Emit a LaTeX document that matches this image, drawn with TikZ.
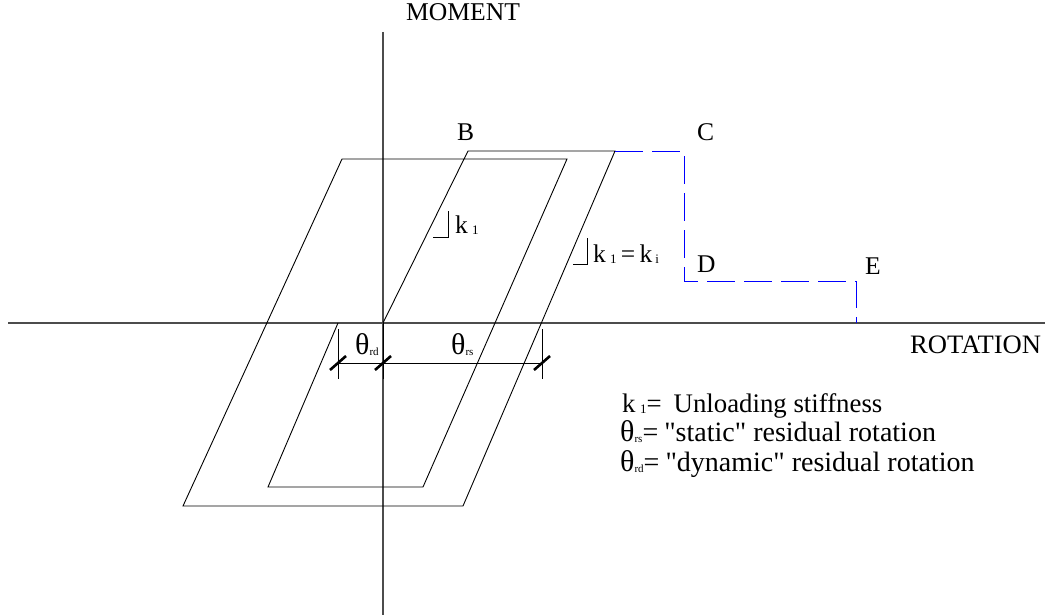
\documentclass[tikz,border=0pt]{standalone}
\usepackage{fontspec}
\setmainfont{Liberation Serif}
\newfontfamily\qf{Liberation Serif}
\newcommand{\ksb}[1]{\raisebox{-1.5pt}{\fontsize{13}{13}\selectfont #1}}
\newcommand{\tsb}[1]{\raisebox{-1pt}{\fontsize{11}{11}\selectfont #1}}
\newcommand{\thb}{{\fontsize{30}{30}\selectfont θ}}
\newcommand{\dq}{{\qf"}}
\tikzset{
  axisline/.style={draw=black!70, line width=1.1pt},
  curveline/.style={draw=black, line width=0.9pt, line join=miter},
  bluedash/.style={draw=blue, line width=1pt, dash pattern=on 28pt off 9pt},
  dimline/.style={draw=black, line width=0.8pt},
  slash/.style={draw=black, line width=2.6pt},
  lbl/.style={font=\fontsize{25.5}{30}\selectfont, inner sep=0pt, anchor=base west},
}
\begin{document}
\begin{tikzpicture}[x=1pt,y=-1pt]
\useasboundingbox (0,0) rectangle (1049,615);
% axes
\coordinate (xl) at (8,323);
\coordinate (xr) at (1045,323);
\coordinate (yt) at (383,32);
\coordinate (yb) at (383,615);
\draw[axisline] (xl) -- (xr);
\draw[axisline] (yt) -- (yb);
% hysteresis curve
\coordinate (O) at (383,323);
\coordinate (Bp) at (468,151);
\coordinate (Cs) at (615,151);
\coordinate (p3) at (463,506);
\coordinate (p4) at (183,506);
\coordinate (p5) at (342,159);
\coordinate (p6) at (567,159);
\coordinate (p7) at (423,487);
\coordinate (p8) at (268,487);
\coordinate (p9) at (338,323);
\draw[curveline] (O) -- (Bp) -- (Cs) -- (p3) -- (p4) -- (p5) -- (p6) -- (p7) -- (p8) -- (p9);
% blue dashed continuation
\coordinate (Cp) at (684,151);
\coordinate (Dp) at (684,281);
\coordinate (Ep) at (856,281);
\coordinate (Ea) at (856,323);
\draw[bluedash] (Cs) -- (Cp) -- (Dp) -- (Ep) -- (Ea);
% dimension lines
\coordinate (d1t) at (338,329);
\coordinate (d1b) at (338,379);
\coordinate (d2t) at (383,323);
\coordinate (d2b) at (383,379);
\coordinate (d3t) at (542,329);
\coordinate (d3b) at (542,379);
\coordinate (m1) at (338,363);
\coordinate (m2) at (383,363);
\coordinate (m3) at (542,363);
\draw[dimline] (d1t) -- (d1b);
\draw[dimline] (d2t) -- (d2b);
\draw[dimline] (d3t) -- (d3b);
\draw[dimline] (m1) -- (m3);
\foreach \m in {m1,m2,m3}
  \draw[slash] ([shift={(-8,7)}]\m) -- ([shift={(8,-7)}]\m);
% slope markers
\coordinate (s1a) at (433,237);
\coordinate (s1b) at (448,237);
\coordinate (s1c) at (448,211);
\draw[dimline] (s1a) -- (s1b) -- (s1c);
\coordinate (s2a) at (573,264);
\coordinate (s2b) at (587,264);
\coordinate (s2c) at (587,238);
\draw[dimline] (s2a) -- (s2b) -- (s2c);
% labels
\node[lbl, font=\fontsize{25.6}{30}\selectfont] (moment) at (406,21) {MOMENT};
\node[lbl, font=\fontsize{26.6}{30}\selectfont] (rotation) at (910,353) {ROTATION};
\node[lbl] (B) at (457,140) {B};
\node[lbl] (C) at (697,140) {C};
\node[lbl] (D) at (697,272) {D};
\node[lbl] (E) at (865,274) {E};
\node[lbl] (k1) at (455,233) {k\,\ksb{1}};
\node[lbl] (k1i) at (593,262) {k\,\ksb{1}\,=\,k\hspace{3pt}\ksb{i}};
\node[lbl] (trd) at (355,354) {\thb\tsb{rd}};
\node[lbl] (trs) at (451,354) {\thb\tsb{rs}};
% legend
\node[lbl, font=\fontsize{26.8}{30}\selectfont] (leg1) at (622,412) {k\,\ksb{1}=\hspace{12pt}Unloading stiffness};
\node[lbl, font=\fontsize{28}{30}\selectfont] (leg2) at (620,441) {\thb\tsb{rs}=\hspace{6pt}\dq static\dq{} residual rotation};
\node[lbl, font=\fontsize{28}{30}\selectfont] (leg3) at (620,471) {\thb\tsb{rd}=\hspace{6pt}\dq dynamic\dq{} residual rotation};
\end{tikzpicture}
\end{document}
